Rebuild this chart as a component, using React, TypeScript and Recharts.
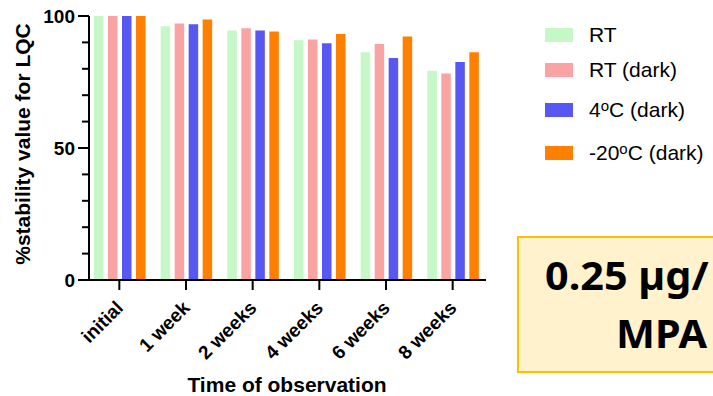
import React from 'react';
import { BarChart, Bar, XAxis, YAxis } from 'recharts';

const categories = ['initial', '1 week', '2 weeks', '4 weeks', '6 weeks', '8 weeks'];
const rt = [100, 96.1, 94.5, 90.8, 86.3, 79.3];
const rtDark = [100, 97.2, 95.4, 91.1, 89.4, 78.2];
const c4Dark = [100, 96.9, 94.5, 89.7, 84.1, 82.6];
const m20Dark = [100, 98.7, 94.1, 93.2, 92.2, 86.3];
const yTicks = [0, 10, 20, 30, 40, 50, 60, 70, 80, 90, 100];
const yLabeled = [0, 50, 100];

const seriesKeys = ['rt', 'rtDark', 'c4Dark', 'm20Dark'];
const seriesColors = ['#c6f7c6', '#f9a3a3', '#5757f2', '#ff8000'];

const data = categories.map((c, i) => ({
  name: c,
  rt: rt[i],
  rtDark: rtDark[i],
  c4Dark: c4Dark[i],
  m20Dark: m20Dark[i],
}));

const FONT = '"Liberation Sans", Arial, Helvetica, sans-serif';

const YTick = (props: any) => {
  const { x, y, payload } = props;
  const major = yLabeled.includes(payload.value);
  return (
    <g>
      <line x1={x - (major ? 11 : 7)} y1={y} x2={x} y2={y} stroke="#000" strokeWidth={2} />
      {major && (
        <text x={x - 14} y={y} dy="0.36em" textAnchor="end" fontFamily={FONT} fontWeight="bold" fontSize={19} fill="#000">
          {payload.value}
        </text>
      )}
    </g>
  );
};

const XTick = (props: any) => {
  const { x, y, payload } = props;
  const px = x + 5;
  const py = y + 17;
  return (
    <text
      x={px}
      y={py}
      textAnchor="end"
      transform={`rotate(-45, ${px}, ${py})`}
      fontFamily={FONT}
      fontWeight="bold"
      fontSize={19}
      fill="#000"
    >
      {payload.value}
    </text>
  );
};

const supStyle: React.CSSProperties = { fontSize: 15, verticalAlign: 'top', position: 'relative', top: -4 };
const legendLabels: React.ReactNode[] = [
  'RT',
  'RT (dark)',
  <span key="a">4<span style={supStyle}>o</span>C (dark)</span>,
  <span key="b">-20<span style={supStyle}>o</span>C (dark)</span>,
];
const legendCenters = [35, 70, 110, 153];

export default function App() {
  return (
    <div style={{ position: 'absolute', left: 0, top: 0, width: 713, height: 396, overflow: 'hidden', background: '#fff', fontFamily: FONT }}>
      <BarChart
        width={713}
        height={396}
        data={data}
        margin={{ top: 16, right: 227, bottom: 56, left: 29 }}
        barSize={9.5}
        barGap={4.5}
      >
        <XAxis
          dataKey="name"
          height={60}
          padding={{ left: -3, right: 0 }}
          axisLine={{ stroke: '#000', strokeWidth: 2 }}
          tickLine={{ stroke: '#000', strokeWidth: 2 }}
          tickSize={10}
          tick={<XTick />}
          interval={0}
        />
        <YAxis
          width={60}
          domain={[0, 100]}
          ticks={yTicks}
          interval={0}
          axisLine={{ stroke: '#000', strokeWidth: 2 }}
          tickLine={false}
          tickSize={0}
          tickMargin={0}
          tick={<YTick />}
        />
        {seriesKeys.map((k, i) => (
          <Bar key={k} dataKey={k} fill={seriesColors[i]} isAnimationActive={false} />
        ))}
      </BarChart>

      <div
        style={{
          position: 'absolute',
          left: 22,
          top: 144,
          transform: 'translate(-50%, -50%) rotate(-90deg)',
          whiteSpace: 'nowrap',
          fontWeight: 'bold',
          fontSize: 21,
          lineHeight: '21px',
        }}
      >
        %stability value for LQC
      </div>

      <div
        style={{
          position: 'absolute',
          left: 287,
          top: 374,
          transform: 'translateX(-50%)',
          whiteSpace: 'nowrap',
          fontWeight: 'bold',
          fontSize: 21,
          lineHeight: '21px',
        }}
      >
        Time of observation
      </div>

      {legendLabels.map((lab, i) => (
        <div key={i}>
          <div
            style={{
              position: 'absolute',
              left: 545,
              top: legendCenters[i] - 7,
              width: 28,
              height: 14,
              background: seriesColors[i],
            }}
          />
          <div
            style={{
              position: 'absolute',
              left: 589,
              top: legendCenters[i] - 11,
              fontSize: 21,
              lineHeight: '21px',
              whiteSpace: 'nowrap',
            }}
          >
            {lab}
          </div>
        </div>
      ))}

      <div
        style={{
          position: 'absolute',
          left: 517,
          top: 236,
          width: 230,
          height: 137,
          background: '#fff2cc',
          border: '2px solid #ffc000',
          boxSizing: 'border-box',
        }}
      />
      <div
        style={{
          position: 'absolute',
          left: 545,
          top: 255,
          fontFamily: '"Noto Sans", sans-serif',
          fontWeight: 700,
          fontSize: 39,
          lineHeight: '39px',
          whiteSpace: 'nowrap',
          transform: 'scaleX(1.06)',
          transformOrigin: 'left center',
        }}
      >
        0.25 µg/
      </div>
      <div
        style={{
          position: 'absolute',
          left: 616,
          top: 313,
          fontFamily: '"Noto Sans", sans-serif',
          fontWeight: 700,
          fontSize: 39,
          lineHeight: '39px',
          whiteSpace: 'nowrap',
          transform: 'scaleX(1.06)',
          transformOrigin: 'left center',
        }}
      >
        MPA
      </div>
    </div>
  );
}
